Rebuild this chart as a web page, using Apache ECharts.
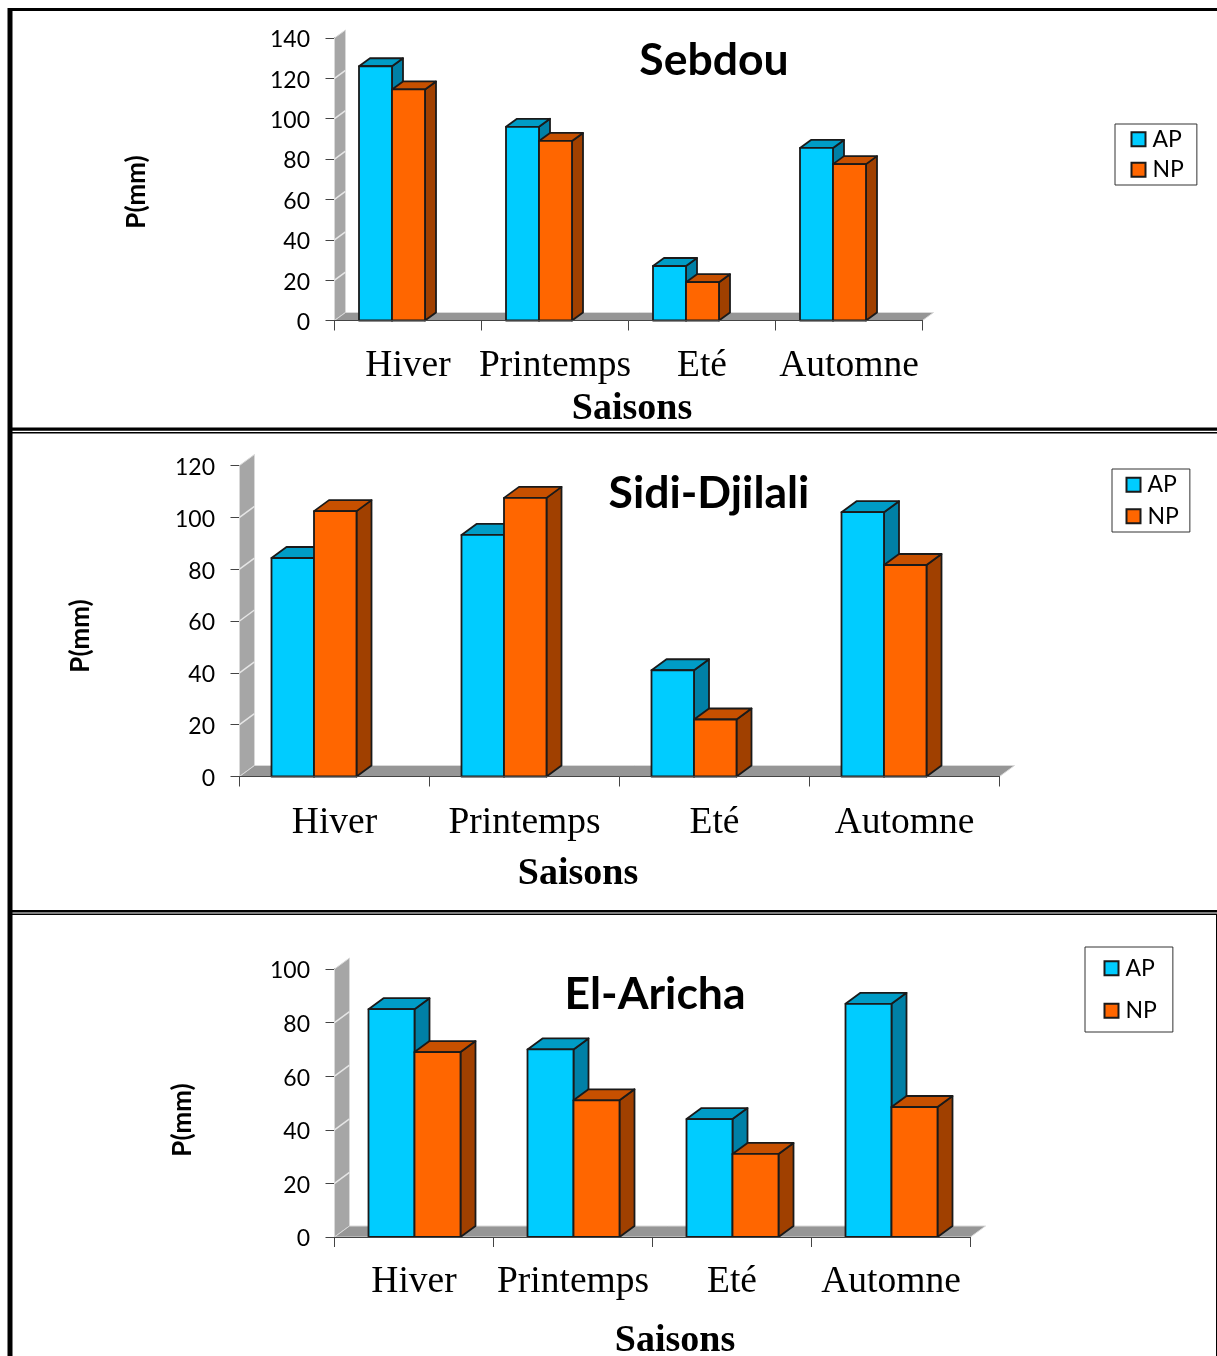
<!DOCTYPE html>
<html>
<head>
<meta charset="utf-8">
<style>
  html, body { margin: 0; padding: 0; background: #fff; }
  #chart { width: 1217px; height: 1356px; }
</style>
<script src="https://cdn.jsdelivr.net/npm/echarts@6/dist/echarts.min.js"></script>
</head>
<body>
<div id="chart"></div>
<script>
const seasons = ['Hiver', 'Printemps', 'Eté', 'Automne']
const seriesNames = ['AP', 'NP']
const stationNames = ['Sebdou', 'Sidi-Djilali', 'El-Aricha']

const sebdouAP = [126, 96, 27, 85.5]
const sebdouNP = [114.5, 89, 19, 77.5]
const sidiAP = [84.3, 93.2, 41, 102]
const sidiNP = [102.4, 107.5, 22, 81.6]
const arichaAP = [85, 70, 44, 87]
const arichaNP = [69, 51, 31, 48.5]

const sebdouTicks = [0, 20, 40, 60, 80, 100, 120, 140]
const sidiTicks = [0, 20, 40, 60, 80, 100, 120]
const arichaTicks = [0, 20, 40, 60, 80, 100]

const xAxisTitle = 'Saisons'
const yAxisTitle = 'P(mm)'

const serif = '"Liberation Serif", serif'
const sans = 'Lato, sans-serif'
const colorsAP = { front: '#00ccff', top: '#009cc6', side: '#0080a6' }
const colorsNP = { front: '#ff6600', top: '#c75000', side: '#a04000' }

// layout of each panel
const panels = [
  {
    values: [sebdouAP, sebdouNP], ticks: sebdouTicks,
    left: 334.5, top: 38, width: 588, height: 282.5,
    dx: 11, dy: 8, barWidth: 33, shift: -16, labelMargin: 27,
    title: [714, 38], xName: [632, 409], yName: [137, 192],
    legend: { left: 1115, top: 124, gap: 7.5, pad: [3.75, 13, 3.75, 15.5] }
  },
  {
    values: [sidiAP, sidiNP], ticks: sidiTicks,
    left: 239.5, top: 465.5, width: 760, height: 311,
    dx: 15, dy: 11, barWidth: 42.5, shift: -20.5, labelMargin: 28,
    title: [709, 471], xName: [578, 874], yName: [81, 636],
    legend: { left: 1112, top: 469, gap: 8.5, pad: [4.25, 11, 4.25, 13.5] }
  },
  {
    values: [arichaAP, arichaNP], ticks: arichaTicks,
    left: 334.5, top: 969, width: 636, height: 268,
    dx: 15, dy: 11, barWidth: 46, shift: 0.5, labelMargin: 26,
    title: [655, 972.5], xName: [675, 1341], yName: [183, 1120],
    legend: { left: 1085, top: 947, gap: 19.5, pad: [9.75, 16, 9.75, 18.5] }
  }
]

function poly(points, fill) {
  return {
    type: 'polygon',
    shape: { points: points },
    style: { fill: fill, stroke: '#1a1a1a', lineWidth: 1.8, lineJoin: 'round' }
  }
}

// back wall and floor, one notch for each tick
function renderWalls(panel) {
  return function (params, api) {
    const cs = params.coordSys
    const dx = panel.dx
    const dy = panel.dy
    const x0 = cs.x
    const y0 = cs.y + cs.height
    const y = api.coord([0, api.value(0)])[1]
    const children = []
    if (params.dataIndex === 0) {
      children.push({
        type: 'polygon',
        shape: { points: [[x0, y0], [x0, cs.y], [x0 + dx, cs.y - dy], [x0 + dx, y0 - dy]] },
        style: { fill: '#a6a6a6', stroke: '#d9d9d9', lineWidth: 1 }
      })
      children.push({
        type: 'polygon',
        shape: { points: [[x0, y0], [x0 + dx, y0 - dy], [x0 + cs.width + dx, y0 - dy], [x0 + cs.width, y0]] },
        style: { fill: '#969696', stroke: '#d9d9d9', lineWidth: 1 }
      })
    }
    if (y > cs.y && y < y0) {
      children.push({
        type: 'line',
        shape: { x1: x0, y1: y, x2: x0 + dx, y2: y - dy },
        style: { stroke: '#e6e6e6', lineWidth: 1.5 }
      })
    }
    return { type: 'group', children: children }
  }
}

function renderBars(panel, seriesIndex, colors) {
  return function (params, api) {
    const dx = panel.dx
    const dy = panel.dy
    const w = panel.barWidth
    const base = api.coord([api.value(0), 0])
    const tip = api.coord([api.value(0), api.value(1)])
    const x1 = base[0] + panel.shift + (seriesIndex - 1) * w
    const x2 = x1 + w
    const y1 = tip[1]
    const y0 = base[1]
    return {
      type: 'group',
      children: [
        poly([[x2, y1], [x2 + dx, y1 - dy], [x2 + dx, y0 - dy], [x2, y0]], colors.side),
        poly([[x1, y1], [x1 + dx, y1 - dy], [x2 + dx, y1 - dy], [x2, y1]], colors.top),
        poly([[x1, y1], [x2, y1], [x2, y0], [x1, y0]], colors.front)
      ]
    }
  }
}

const option = {
  backgroundColor: '#fff',
  animation: false,
  title: [],
  legend: [],
  grid: [],
  xAxis: [],
  yAxis: [],
  series: [],
  graphic: []
}

panels.forEach((panel, i) => {
  const ticks = panel.ticks
  option.grid.push({ left: panel.left, top: panel.top, width: panel.width, height: panel.height })
  option.xAxis.push({
    type: 'category',
    gridIndex: i,
    data: seasons,
    z: 5,
    axisLine: { show: true, lineStyle: { color: '#444', width: 1 } },
    axisTick: { show: true, alignWithLabel: false, length: 10, lineStyle: { color: '#444' } },
    axisLabel: { color: '#000', fontFamily: serif, fontSize: 37.5, margin: panel.labelMargin, interval: 0 }
  })
  option.yAxis.push({
    type: 'value',
    gridIndex: i,
    min: ticks[0],
    max: ticks[ticks.length - 1],
    interval: ticks[1] - ticks[0],
    splitLine: { show: false },
    axisLine: { show: true, lineStyle: { color: '#444', width: 1 } },
    axisTick: { show: true, length: 9, lineStyle: { color: '#444' } },
    // top aligned with a short line box puts the digits a little under the tick, as in the picture
    axisLabel: { color: '#000', fontFamily: sans, fontSize: 23, margin: 24.5, verticalAlign: 'top', lineHeight: 4 }
  })
  option.title.push({
    text: stationNames[i],
    left: panel.title[0],
    top: panel.title[1],
    padding: 0,
    textAlign: 'center',
    textStyle: { color: '#000', fontFamily: sans, fontWeight: 'bold', fontSize: 44.5 }
  })
  option.legend.push({
    data: seriesNames.map((name, k) => ({
      name: name,
      icon: 'rect',
      itemStyle: { color: k === 0 ? colorsAP.front : colorsNP.front, borderColor: '#1a1a1a', borderWidth: 2 }
    })),
    orient: 'vertical',
    left: panel.legend.left,
    top: panel.legend.top,
    itemWidth: 14,
    itemHeight: 14,
    itemGap: panel.legend.gap,
    padding: panel.legend.pad,
    borderColor: '#333',
    borderWidth: 1,
    selectedMode: false,
    textStyle: { color: '#000', fontFamily: sans, fontSize: 23, padding: [2, 0, 0, 2] }
  })
  option.series.push({
    type: 'custom',
    name: 'wall' + i,
    xAxisIndex: i,
    yAxisIndex: i,
    z: 1,
    clip: false,
    silent: true,
    renderItem: renderWalls(panel),
    encode: { y: 0 },
    data: ticks.map((t) => [t])
  })
  seriesNames.forEach((name, k) => {
    const colors = k === 0 ? colorsAP : colorsNP
    option.series.push({
      type: 'custom',
      name: name,
      xAxisIndex: i,
      yAxisIndex: i,
      z: 2 + k,
      clip: false,
      itemStyle: { color: colors.front },
      renderItem: renderBars(panel, k, colors),
      encode: { x: 0, y: 1 },
      data: panel.values[k].map((v, c) => [c, v])
    })
  })
  option.graphic.push({
    type: 'text',
    x: panel.xName[0],
    y: panel.xName[1],
    style: { text: xAxisTitle, font: 'bold 38px ' + serif, fill: '#000', align: 'center', verticalAlign: 'middle' }
  })
  option.graphic.push({
    type: 'text',
    x: panel.yName[0],
    y: panel.yName[1],
    rotation: Math.PI / 2,
    style: { text: yAxisTitle, font: 'bold 26px ' + sans, fill: '#000', align: 'center', verticalAlign: 'middle' }
  })
})

// page frame: heavy left rule, top rule, double separators
const frame = [
  [7.5, 8, 5, 1348],
  [8, 8, 1209, 3],
  [8, 427.6, 1209, 3.2],
  [8, 432, 1209, 1.5],
  [8, 910, 1209, 2.6],
  [8, 913.6, 1209, 1.5],
  [1216, 915, 1, 441]
]
frame.forEach((r) => {
  option.graphic.push({
    type: 'rect',
    shape: { x: r[0], y: r[1], width: r[2], height: r[3] },
    style: { fill: '#000' }
  })
})

const chart = echarts.init(document.getElementById('chart'))
chart.setOption(option)
</script>
</body>
</html>
